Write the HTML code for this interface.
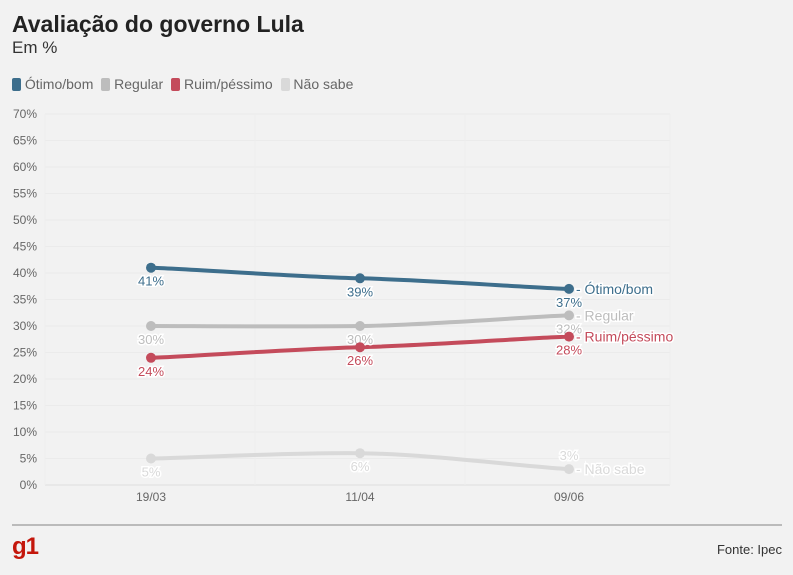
<!DOCTYPE html>
<html><head><meta charset="utf-8"><style>
body{margin:0;background:#f2f2f2;font-family:"Liberation Sans","DejaVu Sans",sans-serif;}
#wrap{position:relative;width:793px;height:575px;overflow:hidden;background:#f2f2f2}
.t{position:absolute;white-space:nowrap}
</style></head><body>
<div id="wrap">
<div class="t" style="left:12px;top:11px;font-size:23px;font-weight:bold;color:#222">Avaliação do governo Lula</div>
<div class="t" style="left:12px;top:38px;font-size:17px;color:#333">Em %</div>
<div class="t" style="left:12px;top:76px;font-size:14px;color:#666">
<span><span style="display:inline-block;width:9px;height:13px;border-radius:2px;background:#3d6e8c;vertical-align:-2px"></span> Ótimo/bom</span>
<span style="margin-left:4px"><span style="display:inline-block;width:9px;height:13px;border-radius:2px;background:#bdbdbd;vertical-align:-2px"></span> Regular</span>
<span style="margin-left:4px"><span style="display:inline-block;width:9px;height:13px;border-radius:2px;background:#c44b5b;vertical-align:-2px"></span> Ruim/péssimo</span>
<span style="margin-left:4px"><span style="display:inline-block;width:9px;height:13px;border-radius:2px;background:#d9d9d9;vertical-align:-2px"></span> Não sabe</span>
</div>
<svg id="chart" width="793" height="575" style="position:absolute;left:0;top:0"></svg>
<div style="position:absolute;left:12px;top:524px;width:770px;height:2px;background:#bbb"></div>
<div class="t" style="left:12px;top:533px;font-size:24px;font-weight:bold;color:#c4170c;letter-spacing:-1px">g1</div>
<div class="t" style="right:11px;top:542px;font-size:13px;color:#333">Fonte: Ipec</div>
</div>
<script>
const categories=["19/03","11/04","09/06"];
const seriesNames=["Ótimo/bom","Regular","Ruim/péssimo","Não sabe"];
const otimo=[41,39,37];
const regular=[30,30,32];
const ruim=[24,26,28];
const naoSabe=[5,6,3];
const yTicks=[0,5,10,15,20,25,30,35,40,45,50,55,60,65,70];
const colors=["#3d6e8c","#bdbdbd","#c44b5b","#d9d9d9"];
const labelColors=["#3d6e8c","#bdbdbd","#c44b5b","#d9d9d9"];
const svg=document.getElementById('chart');
const NS="http://www.w3.org/2000/svg";
const x=i=>151+i*209;
const y=v=>485-v*(371/70);
function mk(tag,attrs){const e=document.createElementNS(NS,tag);for(const k in attrs)e.setAttribute(k,attrs[k]);svg.appendChild(e);return e;}
yTicks.forEach(t=>{
  const l=mk('line',{x1:45,x2:670,y1:y(t),y2:y(t),stroke:t===0?'#ddd':'#ebebeb','stroke-width':1});
  
  
  const tx=mk('text',{x:37,y:y(t)+4,'text-anchor':'end','font-size':12,fill:'#666','font-family':'Liberation Sans, sans-serif'});
  tx.textContent=t+'%';
  
  
});
[45,255,465,670].forEach(px=>{
  const l=mk('line',{x1:px,x2:px,y1:y(70),y2:y(0),stroke:'#eeeeee','stroke-width':1});
  
  
});
categories.forEach((c,i)=>{
  const tx=mk('text',{x:x(i),y:501,'text-anchor':'middle','font-size':12,fill:'#666','font-family':'Liberation Sans, sans-serif'});
  tx.textContent=c;
  
  
});
function pathFor(vals){
  const p=vals.map((v,i)=>[x(i),y(v)]);
  let d=`M${p[0][0]},${p[0][1]}`;
  for(let i=0;i<p.length-1;i++){
    const p0=p[Math.max(0,i-1)],p1=p[i],p2=p[i+1],p3=p[Math.min(p.length-1,i+2)];
    const c1=[p1[0]+(p2[0]-p0[0])/6,p1[1]+(p2[1]-p0[1])/6*0.5];
    const c2=[p2[0]-(p3[0]-p1[0])/6,p2[1]-(p3[1]-p1[1])/6*0.5];
    d+=` C${c1[0]},${c1[1]} ${c2[0]},${c2[1]} ${p2[0]},${p2[1]}`;
  }
  return d;
}
const all=[otimo,regular,ruim,naoSabe];
const keys=['otimo','regular','ruim','nao-sabe'];
const below=[[1,1,1],[1,1,1],[1,1,1],[1,1,-1]];
all.forEach((vals,s)=>{
  const p=mk('path',{d:pathFor(vals),fill:'none',stroke:colors[s],'stroke-width':4,'stroke-linecap':'round'});
  
  
});
all.forEach((vals,s)=>{
  vals.forEach((v,i)=>{
    const c=mk('circle',{cx:x(i),cy:y(v),r:5,fill:colors[s]});
    
    
    const dy=below[s][i]>0?18:-9;
    const t=mk('text',{x:x(i),y:y(v)+dy,'text-anchor':'middle','font-size':13,fill:labelColors[s],stroke:'#fff','stroke-width':3,'paint-order':'stroke','font-family':'Liberation Sans, sans-serif'});
    t.textContent=v+'%';
    
    
  });
  const last=vals.length-1;
  const t=mk('text',{x:x(last)+7,y:y(vals[last])+5,'font-size':14,fill:labelColors[s],stroke:'#fff','stroke-width':3,'paint-order':'stroke','font-family':'Liberation Sans, sans-serif'});
  t.textContent='- '+seriesNames[s];
  
  
});
</script>
</body></html>
